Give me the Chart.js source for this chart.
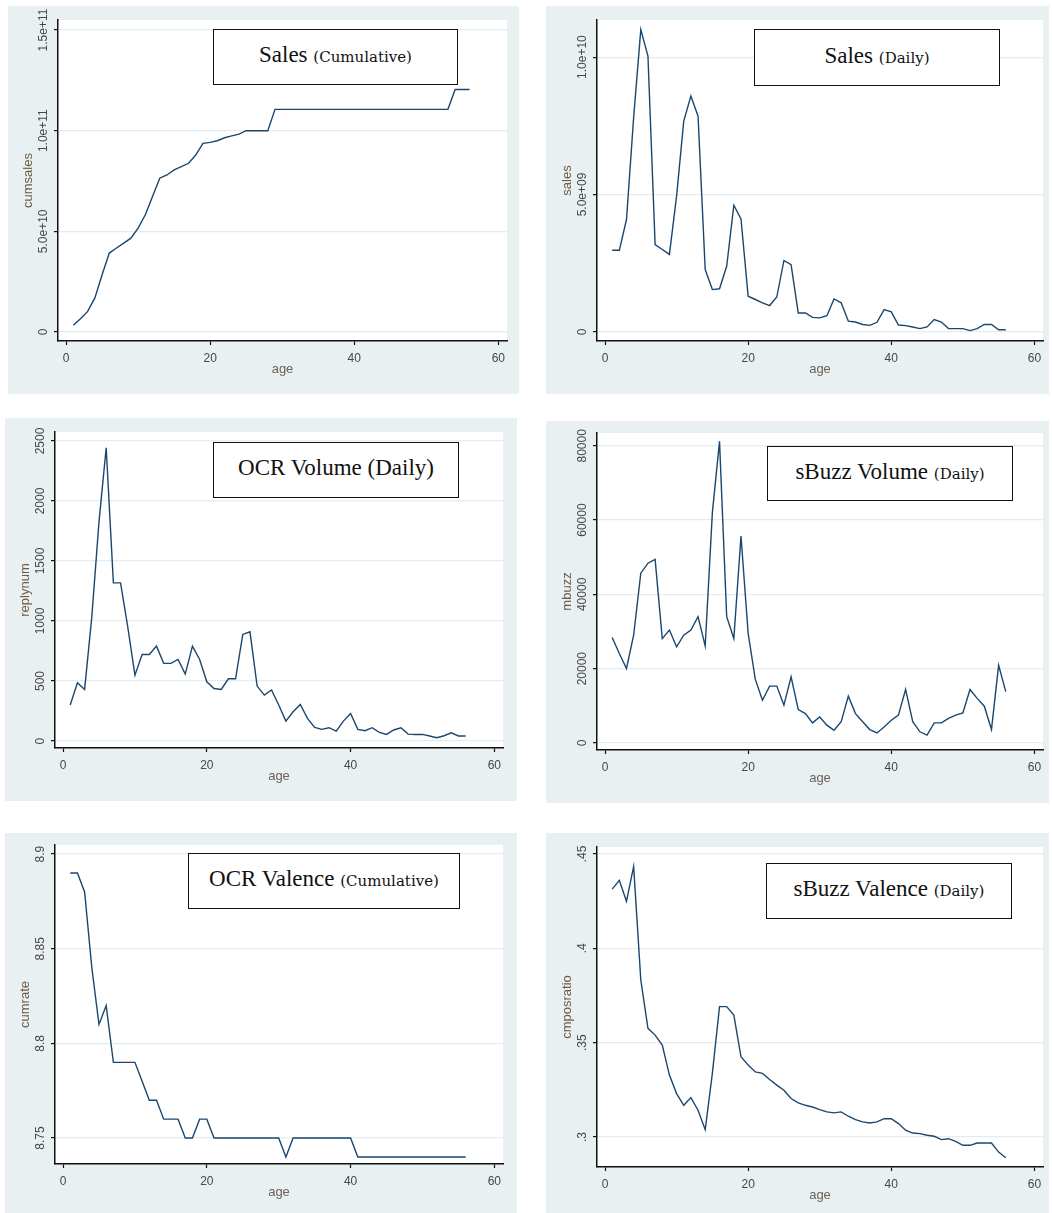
<!DOCTYPE html>
<html>
<head>
<meta charset="utf-8">
<title>Sales, OCR and sBuzz by age</title>
<script src="https://cdn.jsdelivr.net/npm/chart.js@4.4.1/dist/chart.umd.min.js"></script>
<style>
  html, body { margin: 0; padding: 0; background: #fff; }
  body { position: relative; width: 1052px; height: 1213px; overflow: hidden; }
  .panel { position: absolute; background: #e8f0f2; }
  .panel canvas { display: block; }
  .title-box {
    position: absolute;
    box-sizing: border-box;
    background: #fff;
    border: 1.5px solid #111;
    display: flex;
    align-items: center;
    justify-content: center;
    padding-bottom: 5px;
    font-family: 'Liberation Serif', 'Times New Roman', serif;
    font-size: 23px;
    line-height: 1;
    color: #111;
    white-space: nowrap;
  }
  .title-box .sm { font-family: 'DejaVu Serif', serif; font-size: 15px; }
</style>
</head>
<body>
<script>
/**
 * Data (x = age in days)
 */
const ages = [1, 2, 3, 4, 5, 6, 7, 8, 9, 10, 11, 12, 13, 14, 15, 16, 17, 18, 19, 20,
  21, 22, 23, 24, 25, 26, 27, 28, 29, 30, 31, 32, 33, 34, 35, 36, 37, 38, 39, 40,
  41, 42, 43, 44, 45, 46, 47, 48, 49, 50, 51, 52, 53, 54, 55, 56];

const cumSales = [3.3e9, 6.6e9, 1.02e10, 1.69e10, 2.84e10, 3.92e10, 4.17e10, 4.41e10, 4.66e10, 5.16e10,
  5.82e10, 6.73e10, 7.64e10, 7.80e10, 8.05e10, 8.21e10, 8.38e10, 8.79e10, 9.37e10, 9.42e10,
  9.50e10, 9.65e10, 9.74e10, 9.83e10, 1.0e11, 1.0e11, 1.0e11, 1.0e11, 1.106e11, 1.106e11,
  1.106e11, 1.106e11, 1.106e11, 1.106e11, 1.106e11, 1.106e11, 1.106e11, 1.106e11, 1.106e11, 1.106e11,
  1.106e11, 1.106e11, 1.106e11, 1.106e11, 1.106e11, 1.106e11, 1.106e11, 1.106e11, 1.106e11, 1.106e11,
  1.106e11, 1.106e11, 1.106e11, 1.205e11, 1.205e11, 1.205e11];

const dailySales = [2.97e9, 2.97e9, 4.09e9, 7.8e9, 11.0e9, 10.04e9, 3.18e9, 3.0e9, 2.82e9, 4.94e9,
  7.67e9, 8.58e9, 7.85e9, 2.27e9, 1.54e9, 1.57e9, 2.39e9, 4.61e9, 4.11e9, 1.30e9,
  1.18e9, 1.06e9, 0.96e9, 1.27e9, 2.60e9, 2.45e9, 0.69e9, 0.69e9, 0.53e9, 0.51e9,
  0.59e9, 1.20e9, 1.06e9, 0.39e9, 0.36e9, 0.27e9, 0.24e9, 0.35e9, 0.81e9, 0.73e9,
  0.25e9, 0.23e9, 0.18e9, 0.12e9, 0.18e9, 0.45e9, 0.36e9, 0.12e9, 0.12e9, 0.12e9,
  0.05e9, 0.12e9, 0.27e9, 0.27e9, 0.08e9, 0.08e9];

const replyNum = [300, 486, 430, 1035, 1826, 2444, 1318, 1318, 952, 549,
  721, 721, 791, 647, 647, 680, 558, 791, 680, 494,
  438, 430, 519, 519, 888, 910, 458, 383, 425, 300,
  166, 244, 305, 189, 114, 97, 111, 83, 166, 230,
  97, 86, 111, 72, 55, 92, 111, 58, 55, 55,
  42, 28, 44, 69, 42, 42];

const mBuzz = [28400, 24100, 20050, 29000, 45700, 48400, 49400, 28100, 30400, 25900,
  29000, 30400, 34000, 26100, 62000, 81200, 34000, 28100, 55700, 29500,
  17100, 11500, 15300, 15300, 10200, 17800, 9000, 7900, 5400, 7000,
  4800, 3400, 5700, 12600, 7900, 5700, 3600, 2700, 4300, 6100,
  7500, 14400, 5700, 3000, 2100, 5400, 5400, 6600, 7500, 8100,
  14400, 12000, 9900, 3600, 20900, 13800];

const cumRate = [8.89, 8.89, 8.88, 8.84, 8.81, 8.82, 8.79, 8.79, 8.79, 8.79,
  8.78, 8.77, 8.77, 8.76, 8.76, 8.76, 8.75, 8.75, 8.76, 8.76,
  8.75, 8.75, 8.75, 8.75, 8.75, 8.75, 8.75, 8.75, 8.75, 8.75,
  8.74, 8.75, 8.75, 8.75, 8.75, 8.75, 8.75, 8.75, 8.75, 8.75,
  8.74, 8.74, 8.74, 8.74, 8.74, 8.74, 8.74, 8.74, 8.74, 8.74,
  8.74, 8.74, 8.74, 8.74, 8.74, 8.74];

const cmposRatio = [0.4314, 0.436, 0.4249, 0.4434, 0.3832, 0.3576, 0.354, 0.3487, 0.3328, 0.323,
  0.3168, 0.3209, 0.3142, 0.3039, 0.3337, 0.3691, 0.3691, 0.3646, 0.3425, 0.3381,
  0.3345, 0.3337, 0.3305, 0.3275, 0.3248, 0.3204, 0.3181, 0.3168, 0.3159, 0.3145,
  0.3133, 0.3128, 0.3133, 0.311, 0.3092, 0.308, 0.3074, 0.308, 0.3097, 0.3097,
  0.3071, 0.3036, 0.3021, 0.3018, 0.3009, 0.3004, 0.2986, 0.2991, 0.2977, 0.2956,
  0.2956, 0.2968, 0.2968, 0.2968, 0.292, 0.289];

// tick values and their labels
const ageTicks = [0, 20, 40, 60];
const cumSalesTicks = [0, 5e10, 1e11, 1.5e11];
const cumSalesLabels = ['0', '5.0e+10', '1.0e+11', '1.5e+11'];
const dailySalesTicks = [0, 5e9, 1e10];
const dailySalesLabels = ['0', '5.0e+09', '1.0e+10'];
const replyTicks = [0, 500, 1000, 1500, 2000, 2500];
const replyLabels = ['0', '500', '1000', '1500', '2000', '2500'];
const buzzTicks = [0, 20000, 40000, 60000, 80000];
const buzzLabels = ['0', '20000', '40000', '60000', '80000'];
const rateTicks = [8.75, 8.8, 8.85, 8.9];
const rateLabels = ['8.75', '8.8', '8.85', '8.9'];
const ratioTicks = [0.3, 0.35, 0.4, 0.45];
const ratioLabels = ['.3', '.35', '.4', '.45'];

/**
 * Panel layout: bg = graph region, plot = plot region, box = title box
 * (all [left, top, right, bottom] in page pixels)
 */
const panels = [
  { values: cumSales, ticks: cumSalesTicks, labels: cumSalesLabels, yTitle: 'cumsales',
    yMin: -4.5e9, yMax: 1.55e11,
    bg: [8, 6, 519, 394], plot: [58, 20, 507, 341], box: [213, 29, 458, 85],
    title: ['Sales', '(Cumulative)'] },
  { values: dailySales, ticks: dailySalesTicks, labels: dailySalesLabels, yTitle: 'sales',
    yMin: -3.3e8, yMax: 1.135e10,
    bg: [546, 6, 1049, 394], plot: [597, 20, 1043, 341], box: [754, 29, 1000, 86],
    title: ['Sales', '(Daily)'] },
  { values: replyNum, ticks: replyTicks, labels: replyLabels, yTitle: 'replynum',
    yMin: -58, yMax: 2575,
    bg: [5, 418, 517, 801], plot: [55, 432, 503, 748], box: [213, 442, 459, 498],
    title: ['OCR Volume (Daily)', ''] },
  { values: mBuzz, ticks: buzzTicks, labels: buzzLabels, yTitle: 'mbuzz',
    yMin: -1900, yMax: 83450,
    bg: [546, 421, 1049, 803], plot: [597, 433, 1043, 750], box: [767, 446, 1013, 501],
    title: ['sBuzz Volume', '(Daily)'] },
  { values: cumRate, ticks: rateTicks, labels: rateLabels, yTitle: 'cumrate',
    yMin: 8.7363, yMax: 8.9048,
    bg: [5, 833, 517, 1213], plot: [55, 845, 503, 1164], box: [188, 853, 460, 909],
    title: ['OCR Valence', '(Cumulative)'] },
  { values: cmposRatio, ticks: ratioTicks, labels: ratioLabels, yTitle: 'cmposratio',
    yMin: 0.2841, yMax: 0.4537,
    bg: [546, 833, 1049, 1213], plot: [597, 847, 1043, 1167], box: [766, 863, 1012, 919],
    title: ['sBuzz Valence', '(Daily)'] }
];

const LINE_COLOR = '#1a476f';
const GRID_COLOR = '#e3ecef';
const TICK_TEXT = '#4a4644';
const TITLE_TEXT = '#6e5b45';
const SANS = '"Liberation Sans", Arial, sans-serif';

document.addEventListener('DOMContentLoaded', function() {
  Chart.defaults.font.family = SANS;
  panels.forEach(buildPanel);
});

/**
 * White plot region + rotated y labels / y title (Stata style)
 */
const stataPlugin = {
  id: 'stata',
  beforeDraw(chart) {
    const a = chart.chartArea;
    const ctx = chart.ctx;
    ctx.save();
    ctx.fillStyle = '#fff';
    ctx.fillRect(a.left, a.top, a.right - a.left, a.bottom - a.top);
    ctx.restore();
  },
  afterDraw(chart, args, opts) {
    const y = chart.scales.y;
    const ctx = chart.ctx;
    const left = chart.chartArea.left;

    ctx.save();
    ctx.textAlign = 'center';
    ctx.textBaseline = 'middle';

    ctx.font = '12px ' + SANS;
    ctx.fillStyle = TICK_TEXT;
    y.ticks.forEach((t, i) => {
      ctx.save();
      ctx.translate(left - 14.5, y.getPixelForValue(t.value));
      ctx.rotate(-Math.PI / 2);
      ctx.fillText(opts.labels[i], 0, 0);
      ctx.restore();
    });

    ctx.font = '13px ' + SANS;
    ctx.fillStyle = TITLE_TEXT;
    ctx.translate(left - 30, (chart.chartArea.top + chart.chartArea.bottom) / 2);
    ctx.rotate(-Math.PI / 2);
    ctx.fillText(opts.title, 0, 0);
    ctx.restore();
  }
};

function buildPanel(p) {
  const [L, T, R, B] = p.bg;
  const [l, t, r, b] = p.plot;
  const W = R - L;
  const H = B - T;
  const xAxisH = 28.5 + 7.8;

  const div = document.createElement('div');
  div.className = 'panel';
  div.style.cssText = `left:${L}px;top:${T}px;width:${W}px;height:${H}px;`;
  document.body.appendChild(div);

  const canvas = document.createElement('canvas');
  canvas.width = W;
  canvas.height = H;
  canvas.style.width = W + 'px';
  canvas.style.height = H + 'px';
  div.appendChild(canvas);

  // title box (one inner span so both parts share a baseline)
  const box = document.createElement('div');
  box.className = 'title-box';
  const [bl, bt, br, bb] = p.box;
  box.style.cssText = `left:${bl - L}px;top:${bt - T}px;width:${br - bl}px;height:${bb - bt}px;`;
  const inner = document.createElement('span');
  inner.textContent = p.title[0];
  if (p.title[1]) {
    inner.appendChild(document.createTextNode(' '));
    const sm = document.createElement('span');
    sm.className = 'sm';
    sm.textContent = p.title[1];
    inner.appendChild(sm);
  }
  box.appendChild(inner);
  div.appendChild(box);

  new Chart(canvas, {
    type: 'line',
    data: {
      datasets: [{
        data: ages.map((a, i) => ({ x: a, y: p.values[i] })),
        borderColor: LINE_COLOR,
        borderWidth: 1.4,
        pointRadius: 0,
        tension: 0,
        fill: false
      }]
    },
    options: {
      responsive: false,
      animation: false,
      devicePixelRatio: 1,
      layout: {
        padding: { left: 0, top: t - T, right: R - r, bottom: B - b - xAxisH }
      },
      plugins: {
        legend: { display: false },
        tooltip: { enabled: false },
        stata: { labels: p.labels, title: p.yTitle }
      },
      scales: {
        x: {
          type: 'linear',
          min: -1.12,
          max: 61.2,
          afterBuildTicks: s => { s.ticks = ageTicks.map(v => ({ value: v })); },
          afterFit: s => { s.height = xAxisH; s.paddingLeft = 0; s.paddingRight = 0; },
          grid: { drawOnChartArea: false, drawTicks: true, tickLength: 4, tickColor: '#111', tickWidth: 1.2 },
          border: { display: true, color: '#111', width: 1.5 },
          ticks: { padding: 6, color: TICK_TEXT, font: { size: 12 }, maxRotation: 0, callback: v => String(v) },
          title: { display: true, text: 'age', color: '#6b6259', font: { size: 13 }, padding: 0 }
        },
        y: {
          type: 'linear',
          min: p.yMin,
          max: p.yMax,
          afterBuildTicks: s => { s.ticks = p.ticks.map(v => ({ value: v })); },
          afterFit: s => { s.width = l - L; },
          grid: { color: GRID_COLOR, lineWidth: 1.2, drawTicks: true, tickLength: 4, tickColor: '#111', tickWidth: 1.2 },
          border: { display: true, color: '#111', width: 1.5 },
          ticks: { display: false }
        }
      }
    },
    plugins: [stataPlugin]
  });
}
</script>
</body>
</html>
